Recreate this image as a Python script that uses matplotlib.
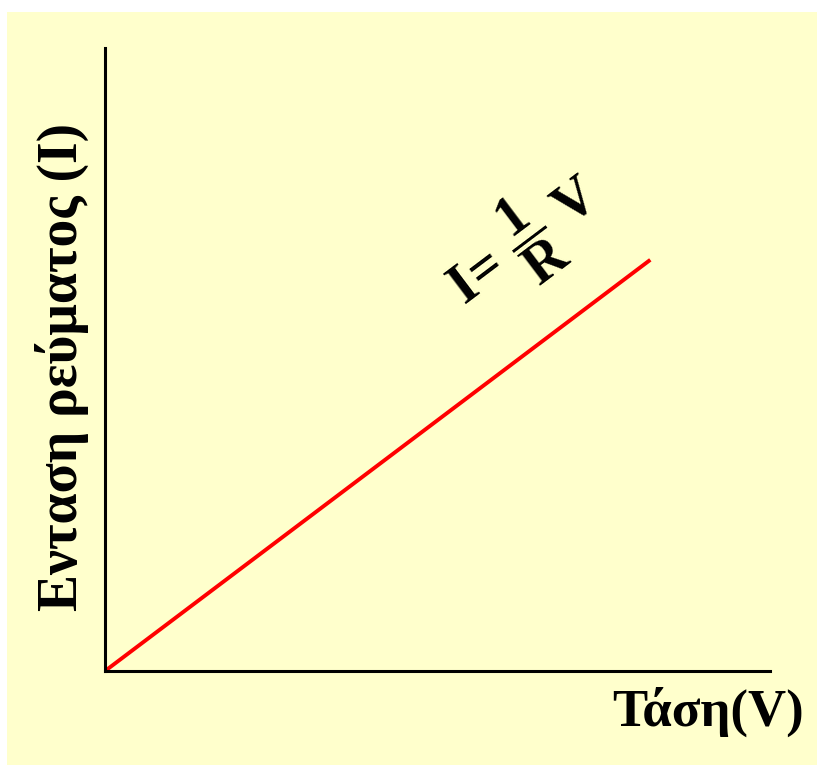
import matplotlib
matplotlib.use("Agg")
import matplotlib.pyplot as plt
from matplotlib.patches import Rectangle

# data: straight line I = V/R through the origin
voltage = [0, 8.2]
current = [0, 6.6]

ylabel_text = "Ενταση ρεύματος (I)"
xlabel_text = "Τάση(V)"
formula_text = r"$I\!=\,\dfrac{1}{R}\;V$"

plt.rcParams['font.family'] = ['Liberation Serif', 'DejaVu Serif']
plt.rcParams['mathtext.fontset'] = 'custom'
plt.rcParams['mathtext.rm'] = 'Liberation Serif:bold'
plt.rcParams['mathtext.it'] = 'Liberation Serif:bold'
plt.rcParams['mathtext.bf'] = 'Liberation Serif:bold'

W, H = 817, 765
fig = plt.figure(figsize=(W / 100, H / 100), dpi=100, facecolor='white')

# light yellow panel
bg = Rectangle((7 / W, 0), 1 - 7 / W, 1 - 12 / H, transform=fig.transFigure,
               facecolor='#ffffcc', edgecolor='none', zorder=-10)
fig.patches.append(bg)

ax = fig.add_axes([105 / W, 1 - 671 / H, 665 / W, 623 / H])
ax.set_facecolor('none')
ax.set_xlim(0, 10)
ax.set_ylim(0, 10)

ax.plot(voltage, current, color='#ff0000', lw=2.8, solid_capstyle='butt')

for s in ['top', 'right']:
    ax.spines[s].set_visible(False)
for s in ['left', 'bottom']:
    ax.spines[s].set_linewidth(2.2)
    ax.spines[s].set_color('black')
ax.set_xticks([])
ax.set_yticks([])

ax.text(0.63, 0.69, formula_text, transform=ax.transAxes, rotation=37,
        ha='center', va='center', fontsize=40, rotation_mode='anchor')

fig.text(62 / W, 1 - 367 / H, ylabel_text, rotation=90, ha='center', va='center',
         fontsize=40, fontweight='bold')
fig.text(708 / W, 1 - 712 / H, xlabel_text, ha='center', va='center',
         fontsize=38, fontweight='bold')

fig.savefig('out.png', dpi=100, facecolor='white')
